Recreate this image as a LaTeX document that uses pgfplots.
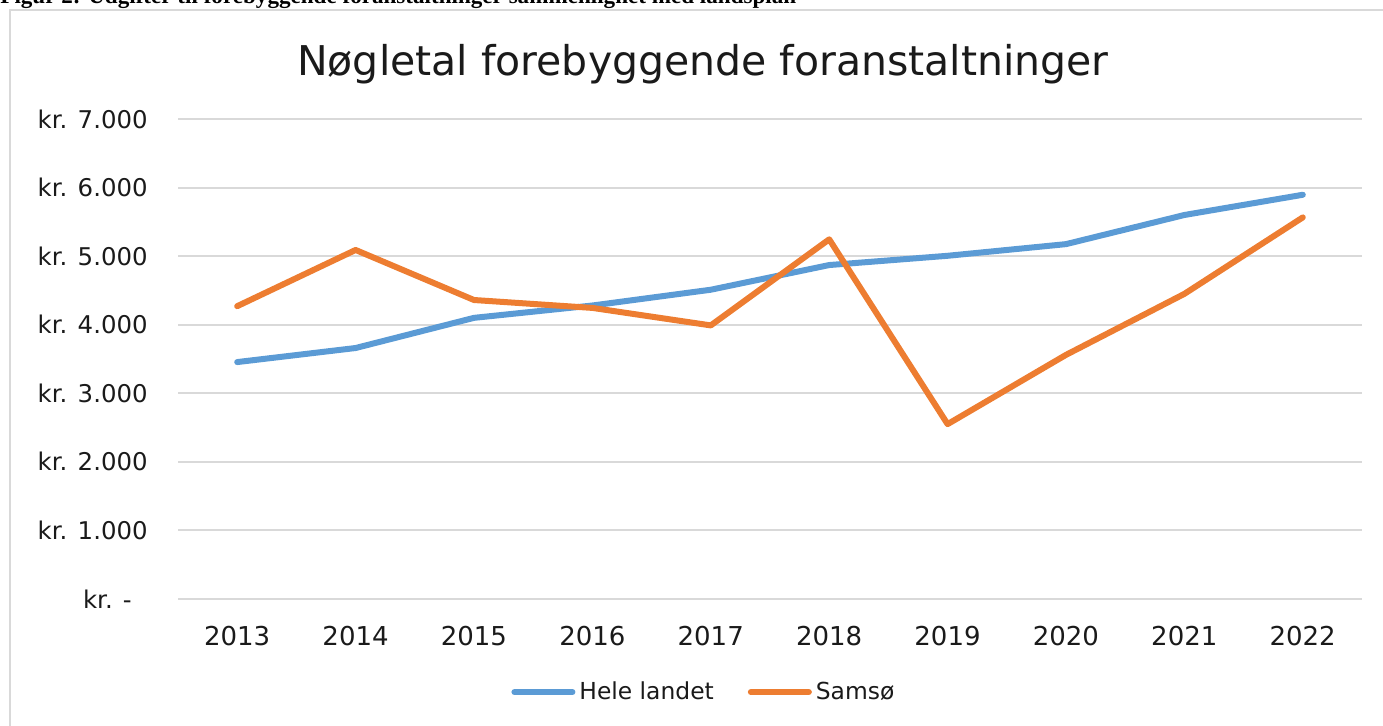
\documentclass[border=0pt]{standalone}
\usepackage{pgfplots}
\pgfplotsset{compat=1.18}
\usepackage{fontspec}
\setmainfont{DejaVu Sans}
\newfontfamily\capfont{Liberation Serif}
\definecolor{cblue}{HTML}{5B9BD5}
\definecolor{corange}{HTML}{ED7D31}
\definecolor{cgrid}{HTML}{D9D9D9}
\definecolor{ctext}{HTML}{1A1A1A}
\begin{document}
\begin{tikzpicture}
\useasboundingbox (0pt,0pt) rectangle (691.5pt,363pt);
\node[anchor=base west,inner sep=0pt,font=\capfont\bfseries\fontsize{11.55pt}{13pt}\selectfont] at (0pt,361pt) {Figur 2: Udgifter til forebyggende foranstaltninger sammenlignet med landsplan};
\draw[cgrid,line width=1.2pt] (5pt,-3pt) -- (5pt,358pt) -- (695pt,358pt);
\node[anchor=base,inner sep=0pt,text=ctext,font=\fontsize{20.5pt}{24pt}\selectfont] at (351.5pt,325pt) {Nøgletal forebyggende foranstaltninger};
\begin{axis}[
  at={(89pt,63.5pt)}, anchor=south west,
  scale only axis, width=592pt, height=240pt,
  xmin=2012.5, xmax=2022.5, ymin=0, ymax=7000,
  axis line style={draw=none},
  major tick length=0pt,
  xtick={2013,...,2022},
  xticklabels={2013,2014,2015,2016,2017,2018,2019,2020,2021,2022},
  ytick={0,1000,...,7000},
  yticklabels={{kr.\rule{5pt}{0pt}-\rule{8pt}{0pt}},kr. 1.000,kr. 2.000,kr. 3.000,kr. 4.000,kr. 5.000,kr. 6.000,kr. 7.000},
  ymajorgrids, grid style={cgrid,line width=1pt},
  xticklabel style={font=\fontsize{13pt}{15pt}\selectfont,text=ctext,inner sep=0pt,anchor=north,yshift=-13.5pt},
  yticklabel style={font=\fontsize{12.2pt}{14pt}\selectfont,text=ctext,inner sep=0pt,anchor=east,xshift=-15pt},
  legend columns=2,
  legend style={at={(axis description cs:0.445,-0.194)},anchor=center,draw=none,fill=none,
    font=\fontsize{11.7pt}{14pt}\selectfont,text=ctext,
    /tikz/every even column/.append style={column sep=15pt},
    /tikz/every odd column/.append style={column sep=0pt}},
  legend cell align=left,
  legend image code/.code={\draw[#1,line width=3pt,line cap=round] (0pt,0pt) -- (29pt,0pt);},
]
\addplot[cblue,line width=3pt,line join=round,line cap=round] coordinates {
(2013,3455) (2014,3660) (2015,4100) (2016,4280) (2017,4510) (2018,4870) (2019,5005) (2020,5175) (2021,5600) (2022,5895)};
\addlegendentry{Hele landet}
\addplot[corange,line width=3pt,line join=round,line cap=round] coordinates {
(2013,4270) (2014,5090) (2015,4360) (2016,4245) (2017,3990) (2018,5245) (2019,2550) (2020,3560) (2021,4450) (2022,5565)};
\addlegendentry{Samsø}
\end{axis}
\end{tikzpicture}
\end{document}
